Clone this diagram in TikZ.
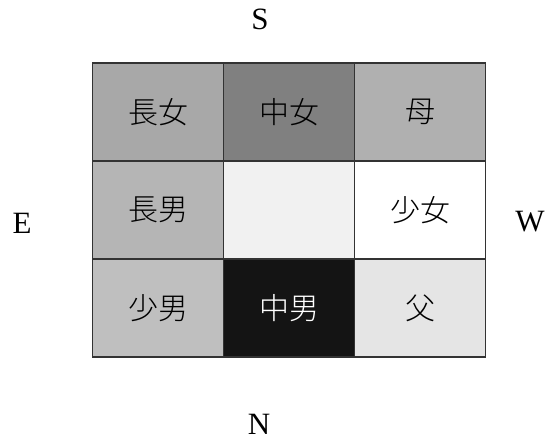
\documentclass[tikz,border=0pt]{standalone}
\usepackage{fontspec}
\setmainfont{Liberation Serif}
\newfontfamily\cjk{Noto Sans CJK JP Light}
\definecolor{cA}{gray}{0.66}
\definecolor{cB}{gray}{0.50}
\definecolor{cC}{gray}{0.69}
\definecolor{cD}{gray}{0.71}
\definecolor{cE}{gray}{0.945}
\definecolor{cF}{gray}{1.0}
\definecolor{cG}{gray}{0.75}
\definecolor{cH}{gray}{0.08}
\definecolor{cI}{gray}{0.90}
\definecolor{edge}{gray}{0.2}
\begin{document}
\begin{tikzpicture}[x=1pt,y=-1pt,
  cell/.style={draw=edge,line width=1.5pt,minimum width=131pt,minimum height=98pt,inner sep=0pt,font=\cjk\fontsize{30}{34}\selectfont},
  dir/.style={font=\fontsize{31}{34}\selectfont,inner sep=0pt}]
\useasboundingbox (0,0) rectangle (546,443);
\node[cell,fill=cA] (a) at (158,112) {長女};
\node[cell,fill=cB] (b) at (289,112) {中女};
\node[cell,fill=cC] (c) at (420,112) {母};
\node[cell,fill=cD] (d) at (158,210) {長男};
\node[cell,fill=cE] (e) at (289,210) {};
\node[cell,fill=cF] (f) at (420,210) {少女};
\node[cell,fill=cG] (g) at (158,308) {少男};
\node[cell,fill=cH,text=white] (h) at (289,308) {中男};
\node[cell,fill=cI] (i) at (420,308) {父};
\node[dir] (s) at (260,19) {S};
\node[dir] (n) at (259,424) {N};
\node[dir] (e2) at (22,223) {E};
\node[dir] (w) at (530,222) {W};
\end{tikzpicture}
\end{document}
